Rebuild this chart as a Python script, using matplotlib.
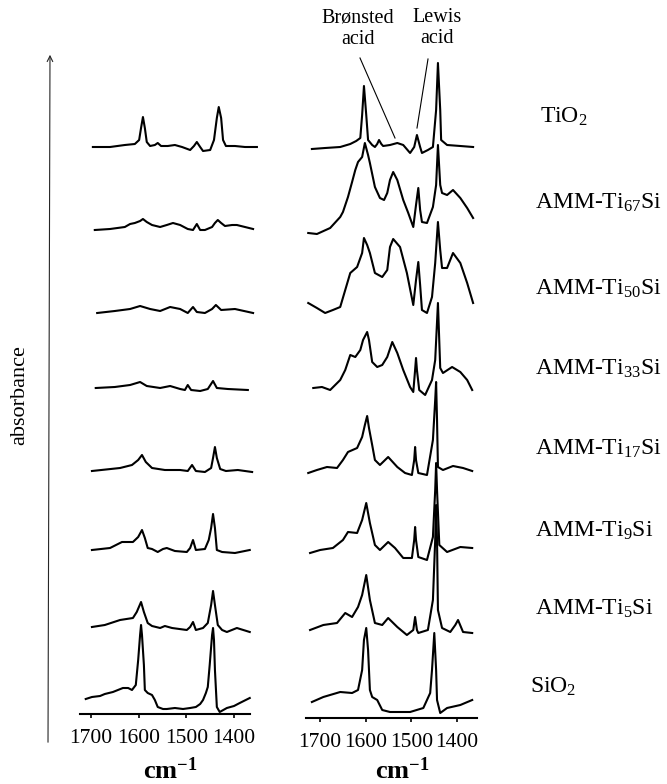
import numpy as np
import matplotlib
matplotlib.use('Agg')
import matplotlib.pyplot as plt
from matplotlib.patches import FancyArrowPatch
from matplotlib.lines import Line2D

plt.rcParams['font.family'] = 'Liberation Serif'
plt.rcParams['mathtext.fontset'] = 'custom'
plt.rcParams['mathtext.rm'] = 'Liberation Serif'
plt.rcParams['mathtext.bf'] = 'Liberation Serif:bold'
plt.rcParams['mathtext.default'] = 'regular'

samples = ['TiO$_2$', 'AMM-Ti$_{67}$Si', 'AMM-Ti$_{50}$Si', 'AMM-Ti$_{33}$Si',
           'AMM-Ti$_{17}$Si', 'AMM-Ti$_9$Si', 'AMM-Ti$_5$Si', 'SiO$_2$']
ticks = [1700, 1600, 1500, 1400]

# ---- left panel spectra (wavenumber, absorbance a.u.) ----
tio2_L_wn = [1696,1660,1629,1608,1599,1595,1591,1587,1583,1576,1566,1560,1553,1539,1524,1509,1492,1484,1478,1471,1465,1450,1442,1436,1432,1427,1423,1417,1398,1377,1352]
tio2_L_ab = [0,0,2,3,7,19,30,19,5,1,2,4,1,1,2,0,-3,1,5,0,-4,-3,7,29,40,29,7,1,1,0,0]
ti67_L_wn = [1692,1660,1629,1618,1608,1597,1591,1583,1572,1555,1541,1528,1513,1497,1486,1478,1471,1461,1446,1440,1434,1427,1419,1404,1394,1377,1360]
ti67_L_ab = [0,1,3,6,7,9,11,8,5,3,5,7,5,1,0,6,0,0,3,7,10,7,4,5,5,3,1]
ti50_L_wn = [1687,1650,1618,1597,1576,1555,1534,1513,1497,1486,1478,1461,1446,1438,1427,1398,1360]
ti50_L_ab = [0,2,4,7,4,2,6,4,0,6,1,0,4,8,3,4,0]
ti33_L_wn = [1690,1650,1618,1597,1583,1555,1534,1513,1503,1497,1490,1471,1455,1444,1436,1413,1371]
ti33_L_ab = [2,3,5,8,4,2,4,1,0,5,0,-1,1,9,2,1,0]
ti17_L_wn = [1698,1639,1614,1601,1593,1585,1572,1545,1513,1497,1488,1480,1461,1448,1444,1440,1436,1429,1417,1392,1362]
ti17_L_ab = [0,3,6,11,16,9,3,1,1,0,6,0,-1,3,13,24,13,2,0,1,-1]
ti9_L_wn = [1698,1660,1635,1612,1601,1593,1587,1581,1572,1560,1549,1541,1524,1499,1492,1486,1480,1461,1453,1448,1444,1440,1436,1425,1398,1367]
ti9_L_ab = [0,2,8,8,13,20,12,2,1,-2,1,2,-1,-2,2,10,0,1,10,22,36,22,0,-2,-3,0]
ti5_L_wn = [1698,1671,1639,1612,1604,1595,1589,1581,1572,1555,1545,1530,1499,1492,1486,1480,1465,1455,1448,1444,1440,1434,1425,1415,1394,1367]
ti5_L_ab = [1,3,8,10,16,26,16,5,2,0,2,0,-2,1,6,-2,0,5,23,37,23,3,-2,-4,0,-4]
sio2_L_wn = [1711,1698,1681,1671,1654,1633,1622,1614,1606,1601,1597,1595,1593,1589,1587,1581,1572,1566,1560,1549,1541,1524,1507,1492,1480,1471,1465,1459,1455,1451,1446,1444,1442,1440,1436,1430,1415,1400,1388,1367]
sio2_L_ab = [1,3,4,6,8,12,12,10,15,40,65,75,65,35,10,7,5,0,-7,-9,-9,-8,-9,-8,-7,-4,0,7,13,35,65,72,60,30,-7,-12,-8,-6,-3,2]

# ---- right panel spectra ----
tio2_R_wn = [1718,1689,1656,1634,1621,1612,1608,1604,1599,1595,1586,1580,1575,1571,1566,1562,1547,1531,1518,1503,1494,1488,1481,1477,1464,1453,1446,1442,1437,1435,1422,1393,1365]
tio2_R_ab = [-2,-1,0,3,6,9,32,61,32,7,2,0,3,7,3,1,2,4,2,-6,0,12,0,-6,-3,0,37,84,37,7,2,1,0]
ti67_R_wn = [1726,1707,1678,1656,1650,1639,1630,1623,1617,1608,1602,1595,1591,1580,1569,1560,1553,1547,1540,1531,1518,1507,1496,1490,1485,1481,1477,1466,1453,1446,1442,1437,1433,1422,1409,1393,1378,1365]
ti67_R_ab = [0,-1,5,16,21,36,51,63,71,76,90,78,70,46,35,33,40,53,61,53,33,20,6,28,45,23,11,10,26,48,88,48,40,38,43,35,25,15]
ti50_R_wn = [1726,1707,1689,1672,1656,1645,1634,1619,1608,1604,1597,1591,1580,1564,1553,1547,1540,1525,1510,1496,1490,1485,1481,1477,1466,1455,1448,1442,1437,1433,1422,1409,1393,1378,1365]
ti50_R_ab = [2,-3,-8,-5,-2,15,32,38,52,67,60,52,32,28,35,58,66,58,32,0,25,43,20,-5,-8,8,42,83,55,37,37,52,42,22,2]
ti33_R_wn = [1715,1696,1678,1656,1645,1634,1623,1612,1606,1597,1593,1586,1575,1564,1553,1542,1531,1518,1503,1496,1492,1490,1488,1483,1470,1455,1448,1442,1437,1431,1411,1393,1378,1367]
ti33_R_ab = [2,3,0,10,20,35,33,40,50,58,50,28,23,25,33,48,37,20,3,-2,20,32,20,0,-5,10,30,87,22,17,23,18,10,0]
ti17_R_wn = [1726,1707,1685,1663,1650,1639,1619,1608,1602,1597,1593,1586,1580,1569,1551,1531,1514,1499,1494,1492,1490,1485,1466,1453,1448,1446,1444,1442,1431,1409,1387,1367]
ti17_R_ab = [-2,1,4,3,11,19,23,34,46,55,43,26,11,6,14,4,-2,-4,11,24,11,-2,-4,31,71,89,51,4,1,5,3,0]
ti9_R_wn = [1722,1700,1672,1650,1639,1619,1608,1599,1591,1580,1569,1551,1536,1518,1499,1494,1492,1490,1485,1466,1453,1448,1446,1444,1439,1422,1393,1367]
ti9_R_ab = [-3,0,2,10,18,17,30,47,27,5,0,8,2,-8,-8,10,23,10,-7,-10,13,60,87,60,5,-2,3,2]
ti5_R_wn = [1722,1693,1663,1645,1630,1617,1608,1599,1591,1580,1564,1551,1531,1510,1496,1492,1488,1485,1464,1453,1448,1446,1444,1442,1433,1415,1404,1398,1387,1367]
ti5_R_ab = [-2,3,5,15,11,21,33,53,28,5,3,10,1,-7,-2,11,-2,-5,-2,28,88,123,88,18,0,-4,3,8,-4,-5]
sio2_R_wn = [1718,1693,1656,1630,1617,1608,1604,1599,1595,1591,1586,1575,1564,1547,1503,1474,1459,1455,1450,1446,1444,1437,1422,1393,1367]
sio2_R_ab = [-2,3,8,7,10,30,60,72,50,10,3,0,-10,-12,-12,-8,7,30,67,30,0,-13,-8,-5,0]

left_wn = [tio2_L_wn, ti67_L_wn, ti50_L_wn, ti33_L_wn, ti17_L_wn, ti9_L_wn, ti5_L_wn, sio2_L_wn]
left_ab = [tio2_L_ab, ti67_L_ab, ti50_L_ab, ti33_L_ab, ti17_L_ab, ti9_L_ab, ti5_L_ab, sio2_L_ab]
right_wn = [tio2_R_wn, ti67_R_wn, ti50_R_wn, ti33_R_wn, ti17_R_wn, ti9_R_wn, ti5_R_wn, sio2_R_wn]
right_ab = [tio2_R_ab, ti67_R_ab, ti50_R_ab, ti33_R_ab, ti17_R_ab, ti9_R_ab, ti5_R_ab, sio2_R_ab]

# vertical stacking offsets
left_off = [567, 484, 401, 324, 243, 164, 86, 14]
right_off = [571, 485, 413, 328, 247, 168, 90, 18]

W, H = 667, 784
fig = plt.figure(figsize=(W/100, H/100), dpi=100)

def fx(x):
    return x / W

def fy(y):
    return 1 - y / H

axL = fig.add_axes([fx(70), fy(714), 195/W, 684/H])
axR = fig.add_axes([fx(295), fy(718), 195/W, 688/H])

for ax, wns, abss, offs, xl, bnd in [(axL, left_wn, left_ab, left_off, (1744, 1335), (1723, 1366)),
                                     (axR, right_wn, right_ab, right_off, (1755, 1328), (1731, 1356))]:
    for wn, ab, off in zip(wns, abss, offs):
        ax.plot(wn, off + np.array(ab), color='k', lw=1.5, solid_joinstyle='round')
    ax.set_xlim(*xl)
    ax.set_ylim(0, 684 if ax is axL else 688)
    for s in ['left', 'right', 'top']:
        ax.spines[s].set_visible(False)
    ax.spines['bottom'].set_bounds(bnd[1], bnd[0])
    ax.spines['bottom'].set_linewidth(1.5)
    ax.set_yticks([])
    ax.set_xticks(ticks)
    ax.tick_params(axis='x', direction='out', length=3, width=1.2, labelsize=15.5, pad=8)
    ax.patch.set_alpha(0)

# x-axis units
fig.text(fx(170), fy(779), 'cm$^{-1}$', fontsize=19, fontweight='bold', ha='center', va='baseline')
fig.text(fx(402), fy(779), 'cm$^{-1}$', fontsize=19, fontweight='bold', ha='center', va='baseline')

# sample labels
label_x = [540, 535, 535, 535, 535, 535, 535, 530]
label_base = [123, 209, 295, 375, 455, 537, 615, 693]
for name, lx, ly in zip(samples, label_x, label_base):
    fig.text(fx(lx), fy(ly), name, fontsize=17, ha='left', va='baseline')

# absorbance arrow
fig.text(fx(20), fy(395), 'absorbance', fontsize=16, rotation=90, ha='center', va='center')
arrow = FancyArrowPatch((fx(48), fy(745)), (fx(50), fy(52)), transform=fig.transFigure,
                        arrowstyle='->', mutation_scale=10, lw=0.8, color='0.15')
fig.add_artist(arrow)

# acid site annotations
fig.text(fx(358), fy(29), 'Brønsted\nacid', fontsize=14.5, ha='center', va='center', linespacing=1.15)
fig.text(fx(437), fy(28), 'Lewis\nacid', fontsize=14.5, ha='center', va='center', linespacing=1.15)
fig.add_artist(Line2D([fx(360), fx(395)], [fy(58), fy(138)], transform=fig.transFigure, lw=0.8, color='k'))
fig.add_artist(Line2D([fx(428), fx(417)], [fy(59), fy(128)], transform=fig.transFigure, lw=0.8, color='k'))

fig.savefig('out.png', dpi=100)
